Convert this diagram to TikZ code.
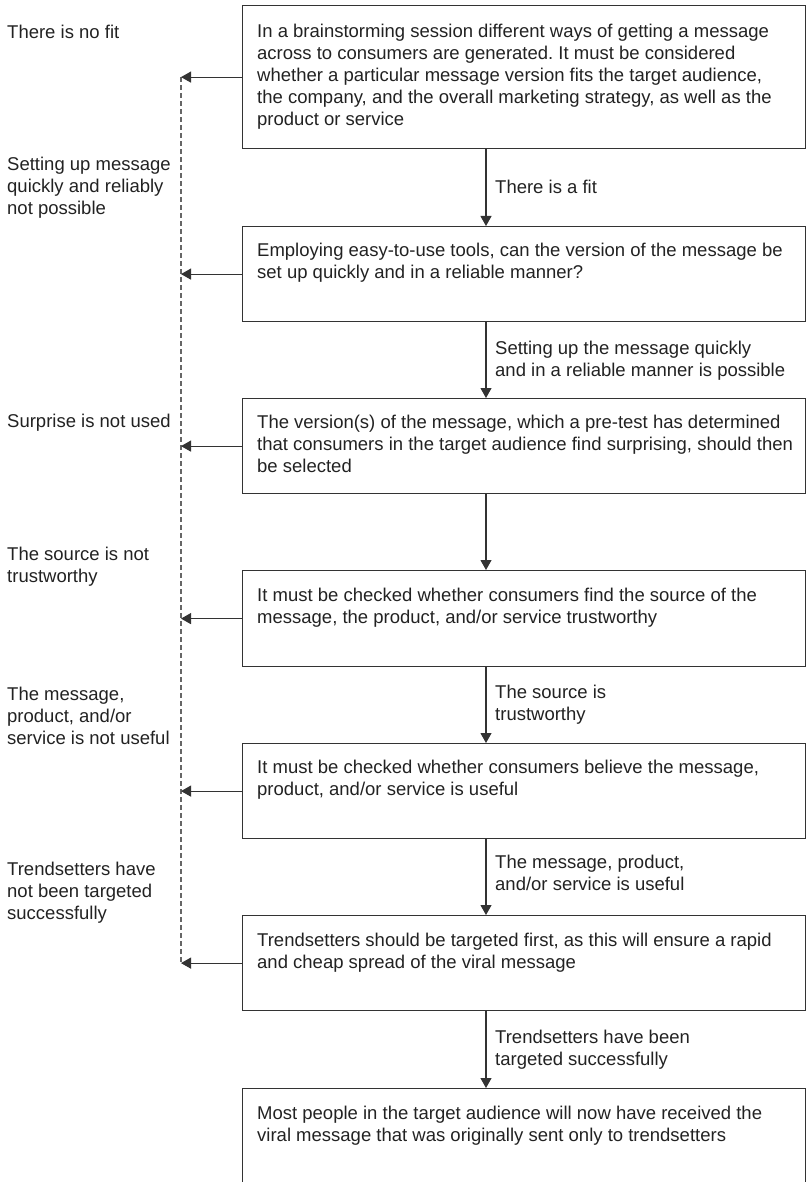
\documentclass[tikz,border=0pt]{standalone}
\usepackage{fontspec}
\setmainfont{Liberation Sans}
\usetikzlibrary{arrows.meta,calc}
\definecolor{ink}{HTML}{222222}
\definecolor{edge}{HTML}{333333}
\definecolor{railgray}{HTML}{666666}
\frenchspacing
\begin{document}
\begin{tikzpicture}[x=1pt,y=-1pt,
  stagebox/.style={draw=edge, line width=1.2pt, anchor=north west, inner sep=0pt,
    minimum width=563pt},
  txt/.style={anchor=north west, inner sep=0pt, align=left, text=ink,
    font=\fontsize{18.5}{22}\selectfont},
  flow/.style={draw=edge, line width=1.1pt, -{Triangle[length=10pt,width=11pt]}},
  railline/.style={draw=railgray, line width=1.1pt, dash pattern=on 5pt off 3pt},
]
\useasboundingbox (0,0) rectangle (810,1182);
\clip (0,0) rectangle (810,1182);

% stages of the process
\node[stagebox, minimum height=143pt] (b1) at (242,5) {};
\node[stagebox, minimum height=95pt]  (b2) at (242,226) {};
\node[stagebox, minimum height=95pt]  (b3) at (242,398) {};
\node[stagebox, minimum height=96pt]  (b4) at (242,570) {};
\node[stagebox, minimum height=95pt]  (b5) at (242,743) {};
\node[stagebox, minimum height=95pt]  (b6) at (242,915) {};
\node[stagebox, minimum height=120pt] (b7) at (242,1088) {};

\node[txt] (t1) at ($(b1.north west)+(15,17)$) {\strut In a brainstorming session different ways of getting a message\\
across to consumers are generated. It must be considered\\
whether a particular message version fits the target audience,\\
the company, and the overall marketing strategy, as well as the\\
product or service};
\node[txt] (t2) at ($(b2.north west)+(15,15)$) {\strut Employing easy-to-use tools, can the version of the message be\\
set up quickly and in a reliable manner?};
\node[txt] (t3) at ($(b3.north west)+(15,15)$) {\strut The version(s) of the message, which a pre-test has determined\\
that consumers in the target audience find surprising, should then\\
be selected};
\node[txt] (t4) at ($(b4.north west)+(15,15.5)$) {\strut It must be checked whether consumers find the source of the\\
message, the product, and/or service trustworthy};
\node[txt] (t5) at ($(b5.north west)+(15,15)$) {\strut It must be checked whether consumers believe the message,\\
product, and/or service is useful};
\node[txt] (t6) at ($(b6.north west)+(15,15.5)$) {\strut Trendsetters should be targeted first, as this will ensure a rapid\\
and cheap spread of the viral message};
\node[txt] (t7) at ($(b7.north west)+(15,15.5)$) {\strut Most people in the target audience will now have received the\\
viral message that was originally sent only to trendsetters};

% the rejection rail on the left
\coordinate (rail) at (181,0);
\draw[railline] (b1.west -| rail) -- (b6.west -| rail);
\foreach \b in {b1,b2,b3,b4,b5,b6}
  \draw[flow] (\b.west) -- (\b.west -| rail);

% forward path
\foreach \a/\b in {b1/b2,b2/b3,b3/b4,b4/b5,b5/b6,b6/b7}
  \draw[flow] ($(\a.south west)+(244,0)$) -- ($(\b.north west)+(244,0)$);

% labels of the forward path
\node[txt] (y1) at (495,178) {\strut There is a fit};
\node[txt] (y2) at (495,339) {\strut Setting up the message quickly\\and in a reliable manner is possible};
\node[txt] (y4) at (495,683) {\strut The source is\\trustworthy};
\node[txt] (y5) at (495,853) {\strut The message, product,\\and/or service is useful};
\node[txt] (y6) at (495,1028) {\strut Trendsetters have been\\targeted successfully};

% labels of the rejections
\node[txt] (n1) at (7,23)  {\strut There is no fit};
\node[txt] (n2) at (7,155) {\strut Setting up message\\quickly and reliably\\not possible};
\node[txt] (n3) at (7,412) {\strut Surprise is not used};
\node[txt] (n4) at (7,545) {\strut The source is not\\trustworthy};
\node[txt] (n5) at (7,685) {\strut The message,\\product, and/or\\service is not useful};
\node[txt] (n6) at (7,860) {\strut Trendsetters have\\not been targeted\\successfully};
\end{tikzpicture}
\end{document}
